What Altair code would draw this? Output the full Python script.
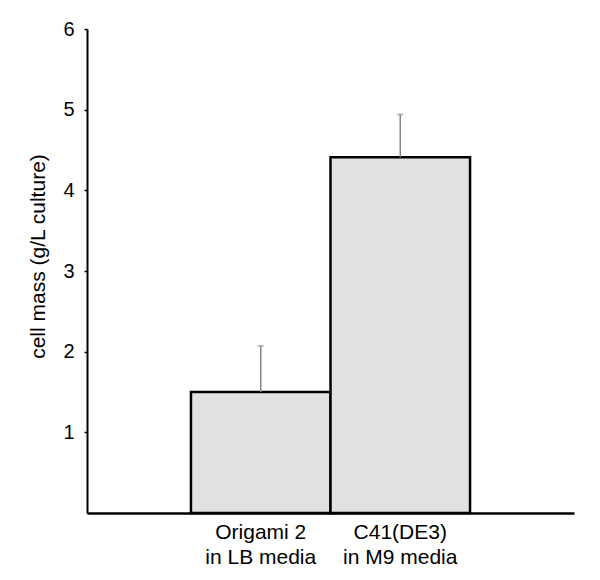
import altair as alt
import pandas as pd

strains = ["Origami 2", "C41(DE3)"]
media = ["in LB media", "in M9 media"]
cell_mass = [1.5, 4.41]
error = [0.57, 0.53]
y_ticks = [1, 2, 3, 4, 5, 6]

df = pd.DataFrame({
    "group": [f"{s}|{m}" for s, m in zip(strains, media)],
    "mass": cell_mass,
    "err": error,
})
df["upper"] = df["mass"] + df["err"]

FONT = "Liberation Sans"

x_scale = alt.Scale(paddingInner=0, paddingOuter=0.745)

bars = alt.Chart(df).mark_bar(
    fill="#e1e1e1", stroke="black", strokeWidth=2.5
).encode(
    x=alt.X("group:N", sort=None, scale=x_scale,
            axis=alt.Axis(title=None, labelAngle=0, ticks=False,
                          labelExpr="split(datum.label, '|')",
                          labelFontSize=21, labelLineHeight=25,
                          labelPadding=8, labelColor="black",
                          labelFont=FONT, domainColor="black",
                          domainWidth=2.5, labelBaseline="top")),
    y=alt.Y("mass:Q", scale=alt.Scale(domain=[0, 6], nice=False),
            axis=alt.Axis(title="cell mass (g/L culture)", values=y_ticks,
                          format="d",
                          grid=False, tickSize=3, tickColor="black",
                          tickWidth=1.5, labelFontSize=20, labelPadding=10,
                          labelColor="black", labelFont=FONT,
                          domainColor="black", domainWidth=2,
                          titleFont=FONT, titleFontSize=21,
                          titleFontWeight="normal", titleColor="black",
                          titleX=-43, titleY=227, titleBaseline="alphabetic",
                          titleAlign="center")),
)

rules = alt.Chart(df).mark_rule(color="#858585", strokeWidth=1.5).encode(
    x=alt.X("group:N", sort=None),
    y=alt.Y("mass:Q"),
    y2="upper:Q",
)

caps = alt.Chart(df).mark_tick(color="#858585", size=6, thickness=1.5).encode(
    x=alt.X("group:N", sort=None),
    y=alt.Y("upper:Q"),
)

chart = alt.layer(bars, rules, caps).properties(
    width=487, height=484,
    background="white",
    autosize=alt.AutoSizeParams(type="none"),
    padding={"left": 79, "top": 21, "right": 18, "bottom": 64},
).configure_view(strokeWidth=0)

chart.save("out.html", embed_options={"renderer": "svg", "actions": False})
